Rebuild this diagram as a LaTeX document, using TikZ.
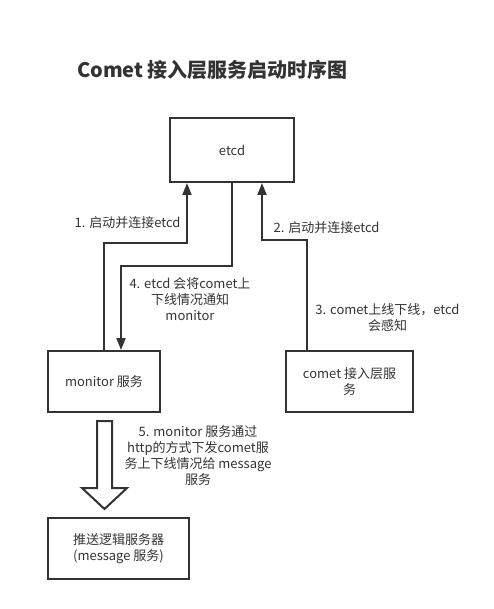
\documentclass[tikz,border=0pt]{standalone}
\usepackage{fontspec}
\setmainfont{Noto Sans CJK SC}
\usepackage{xcolor}
\usetikzlibrary{arrows.meta}
\definecolor{ink}{HTML}{333333}

\begin{document}
\begin{tikzpicture}[x=1pt,y=-1pt,
    box/.style={draw=ink,line width=2pt,text=ink,align=center,
      font=\fontsize{13}{16}\selectfont,inner sep=0pt},
    lbl/.style={text=ink,align=center,font=\fontsize{13}{16}\selectfont,inner sep=0pt},
    flow/.style={draw=ink,line width=2pt,-{Triangle[length=12pt,width=9pt]}},
    link/.style={draw=ink,line width=2pt}]
    \useasboundingbox (0,0) rectangle (494,609);
    \node[text=ink,font=\fontsize{20}{24}\selectfont\bfseries] (title) at (212.5,70) {Comet 接入层服务启动时序图};
    % boxes
    \node[box,minimum width=124pt,minimum height=64pt] (etcd) at (232,150) {etcd};
    \node[box,minimum width=112pt,minimum height=61pt] (monitor) at (104,381.5) {monitor 服务};
    \node[box,minimum width=127pt,minimum height=61pt] (comet) at (349.5,381.5) {comet 接入层服\\务};
    \node[box,minimum width=141pt,minimum height=61pt] (message) at (118.5,548.5) {推送逻辑服务器\\(message 服务)};
    % bends
    \coordinate (j1) at (187,243);
    \coordinate (j2) at (262,240);
    \coordinate (j4) at (121,266);
    \draw[flow] (monitor.north) |- (j1) -- (j1 |- etcd.south);
    \draw[flow] ([xshift=-42.5pt]comet.north) |- (j2) -- (j2 |- etcd.south);
    \draw[flow] (etcd.south) |- (j4) -- (j4 |- monitor.north);
    % big arrow
    \draw[link,fill=white,line join=miter] (97,421) -- (112,421) -- (112,488) -- (127,488)
      -- (104.5,509) -- (82,488) -- (97,488) -- cycle;
    % labels
    \node[lbl] (l1) at (127.5,223) {1. 启动并连接etcd};
    \node[lbl] (l2) at (326.5,228) {2. 启动并连接etcd};
    \node[lbl] (l3) at (387.5,318) {3. comet上线下线，etcd\\会感知};
    \node[lbl] (l4) at (190,299.5) {4. etcd 会将comet上\\下线情况通知\\monitor};
    \node[lbl] (l5) at (198,456) {5. monitor 服务通过\\http的方式下发comet服\\务上下线情况给 message\\服务};
\end{tikzpicture}
\end{document}
